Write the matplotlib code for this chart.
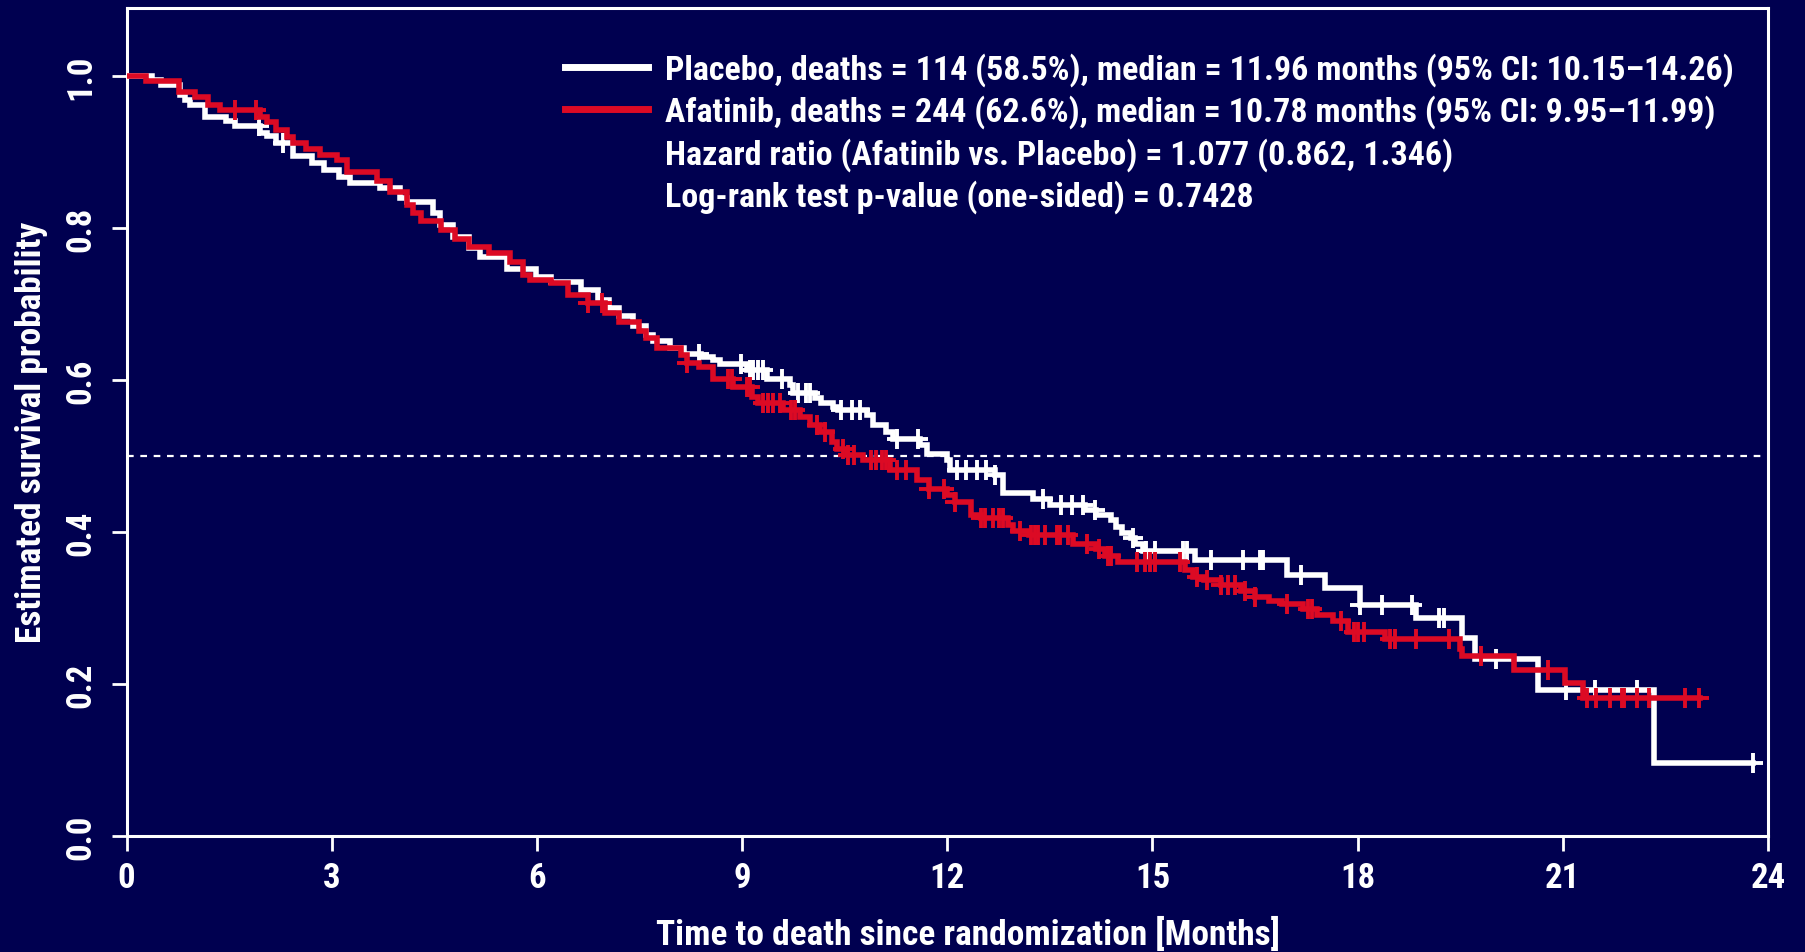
import numpy as np
import matplotlib
matplotlib.use("Agg")
import matplotlib.pyplot as plt
from matplotlib.lines import Line2D

plt.rcParams['font.family'] = ['Roboto Condensed', 'DejaVu Sans Condensed',
                               'Liberation Sans Narrow', 'Roboto', 'DejaVu Sans']
plt.rcParams['font.weight'] = 'bold'
plt.rcParams['axes.labelweight'] = 'bold'

NAVY = '#000050'
RED = '#DC0A24'
WHITE = '#FFFFFF'

# Kaplan-Meier steps: event times (months) and survival after each step
placebo_t = [0, 0.37, 0.5, 0.78, 0.85, 0.93, 1.15, 1.46, 1.58, 1.95,
             2.05, 2.19, 2.44, 2.71, 2.88, 3.1, 3.27, 3.70, 4.0, 4.1,
             4.48, 4.58, 4.78, 5.0, 5.17, 5.56, 5.99, 6.2, 6.64, 6.9,
             7.05, 7.2, 7.4, 7.6, 7.7, 7.95, 8.15, 8.4, 8.57, 8.68,
             9.07, 9.36, 9.70, 9.74, 10.06, 10.16, 10.33, 10.4, 10.82, 10.92,
             11.11, 11.21, 11.6, 11.7, 11.99, 12.04, 12.7, 12.82, 13.26, 13.5,
             14.01, 14.18, 14.4, 14.47, 14.55, 14.69, 14.74, 14.86, 15.62, 16.96,
             17.52, 18.03, 18.86, 19.52, 19.71, 20.64, 22.33]
placebo_s = [1.0, 0.9955, 0.989, 0.976, 0.969, 0.9626, 0.947, 0.9407, 0.934, 0.925,
             0.921, 0.912, 0.8946, 0.886, 0.877, 0.868, 0.859, 0.853, 0.84, 0.835,
             0.82, 0.804, 0.789, 0.774, 0.7625, 0.747, 0.736, 0.729, 0.719, 0.705,
             0.695, 0.685, 0.672, 0.659, 0.652, 0.642, 0.635, 0.63, 0.626, 0.621,
             0.613, 0.602, 0.5935, 0.5826, 0.576, 0.5694, 0.565, 0.5606, 0.554, 0.5408,
             0.532, 0.5224, 0.5144, 0.5035, 0.4947, 0.4815, 0.475, 0.451, 0.444, 0.436,
             0.4288, 0.422, 0.4156, 0.407, 0.399, 0.392, 0.385, 0.3747, 0.363, 0.343,
             0.3265, 0.3045, 0.287, 0.2606, 0.233, 0.1916, 0.096]
placebo_end = 23.78
placebo_cens = [1.93, 2.29, 8.37, 8.99, 9.11, 9.16, 9.23, 9.31, 9.58, 9.82,
                9.94, 9.99, 10.45, 10.6, 10.72, 11.26, 11.57, 12.14, 12.28, 12.43,
                12.57, 12.7, 13.4, 13.67, 13.82, 13.99, 14.16, 14.72, 14.91, 15.04,
                15.45, 15.5, 15.86, 16.33, 16.57, 16.62, 17.17, 18.03, 18.36, 18.79,
                19.19, 19.26, 20.03, 21.05, 21.47, 22.08, 23.78]

afatinib_t = [0, 0.29, 0.76, 1.0, 1.19, 1.37, 1.95, 2.05, 2.19, 2.34,
              2.44, 2.63, 2.83, 3.07, 3.22, 3.66, 3.85, 4.1, 4.19, 4.3,
              4.6, 4.8, 5.0, 5.3, 5.6, 5.8, 5.9, 6.2, 6.45, 6.75,
              7.0, 7.2, 7.5, 7.6, 7.75, 8.1, 8.2, 8.37, 8.58, 8.87,
              9.14, 9.24, 9.6, 9.84, 9.99, 10.14, 10.31, 10.39, 10.53, 10.77,
              11.16, 11.56, 11.73, 12.0, 12.12, 12.34, 12.5, 12.89, 12.96, 13.2,
              13.84, 14.18, 14.3, 14.5, 15.47, 15.6, 15.75, 16.0, 16.3, 16.5,
              16.7, 16.9, 17.2, 17.4, 17.64, 17.86, 18.4, 19.49, 19.53, 20.28,
              21.03, 21.3]
afatinib_s = [1.0, 0.9934, 0.980, 0.9734, 0.9626, 0.956, 0.947, 0.94, 0.93, 0.92,
              0.912, 0.905, 0.8967, 0.89, 0.8746, 0.8616, 0.848, 0.8308, 0.820, 0.81,
              0.798, 0.786, 0.776, 0.767, 0.756, 0.738, 0.732, 0.7275, 0.712, 0.701,
              0.689, 0.677, 0.665, 0.655, 0.642, 0.633, 0.622, 0.6177, 0.602, 0.5914,
              0.578, 0.5694, 0.5606, 0.5519, 0.5408, 0.532, 0.519, 0.51, 0.5013, 0.4947,
              0.4815, 0.468, 0.457, 0.4486, 0.44, 0.422, 0.418, 0.409, 0.401, 0.3956,
              0.385, 0.378, 0.369, 0.3605, 0.3497, 0.341, 0.337, 0.33, 0.322, 0.315,
              0.31, 0.306, 0.299, 0.291, 0.2825, 0.2685, 0.259, 0.2465, 0.2376, 0.218,
              0.2017, 0.182]
afatinib_end = 23.0
afatinib_cens = [1.585, 1.90, 6.75, 6.95, 8.2, 8.80, 8.85, 9.07, 9.11, 9.31,
                 9.38, 9.45, 9.55, 9.72, 9.77, 10.09, 10.21, 10.48, 10.55, 10.63,
                 10.89, 10.96, 11.04, 11.11, 11.26, 11.4, 11.73, 11.95, 12.12, 12.5,
                 12.55, 12.67, 12.75, 12.82, 13.06, 13.23, 13.28, 13.33, 13.43, 13.6,
                 13.65, 13.77, 14.04, 14.22, 14.35, 14.4, 14.77, 14.89, 14.96, 15.04,
                 15.4, 15.65, 15.8, 16.0, 16.1, 16.2, 16.35, 16.5, 16.96, 17.27,
                 17.33, 17.75, 17.94, 18.0, 18.1, 18.47, 18.55, 18.85, 19.34, 19.8,
                 20.78, 21.35, 21.49, 21.69, 21.86, 21.9, 22.08, 22.26, 22.78, 22.99]

legend_labels = [
    "Placebo, deaths = 114 (58.5%), median = 11.96 months (95% CI: 10.15\u201314.26)",
    "Afatinib, deaths = 244 (62.6%), median = 10.78 months (95% CI: 9.95\u201311.99)",
    "Hazard ratio (Afatinib vs. Placebo) = 1.077 (0.862, 1.346)",
    "Log-rank test p-value (one-sided) = 0.7428",
]
x_ticks = [0, 3, 6, 9, 12, 15, 18, 21, 24]
y_ticks = [0.0, 0.2, 0.4, 0.6, 0.8, 1.0]


def km_curve(ax, t, s, t_end, cens, color):
    t = np.asarray(t)
    s = np.asarray(s)
    xs = np.append(t, t_end)
    ys = np.append(s, s[-1])
    ax.step(xs, ys, where='post', color=color, lw=4.0, solid_joinstyle='miter',
            zorder=3)
    cens = np.asarray(cens)
    idx = np.searchsorted(t, cens, side='right') - 1
    ax.plot(cens, s[idx], ls='none', marker='+', ms=15, mew=2.8, color=color,
            zorder=3)


fig = plt.figure(figsize=(18.05, 9.53), dpi=100, facecolor=NAVY)
ax = fig.add_axes([0.0701, 0.1217, 0.9094, 0.8689], facecolor=NAVY)

ax.axhline(0.5, color=WHITE, lw=1.6, ls=(0, (3, 3)), zorder=2)
km_curve(ax, placebo_t, placebo_s, placebo_end, placebo_cens, WHITE)
km_curve(ax, afatinib_t, afatinib_s, afatinib_end, afatinib_cens, RED)

ax.set_xlim(0, 24)
ax.set_ylim(0, 1.09)
ax.set_xticks(x_ticks)
ax.set_yticks(y_ticks)
ax.set_yticklabels([f"{v:.1f}" for v in y_ticks], rotation=90, va='center')
for sp in ax.spines.values():
    sp.set_color(WHITE)
    sp.set_linewidth(2.2)
ax.tick_params(colors=WHITE, labelsize=25, length=11, width=2, direction='out',
               pad=7)
ax.tick_params(axis='y', pad=10)
ax.set_xlabel("Time to death since randomization [Months]", color=WHITE,
              fontsize=25.5, va='center')
ax.xaxis.set_label_coords(0.5126, -0.118)
ax.set_ylabel("Estimated survival probability", color=WHITE, fontsize=25.5,
              va='center')
ax.yaxis.set_label_coords(-0.0576, 0.489)

handles = [Line2D([], [], color=WHITE, lw=5),
           Line2D([], [], color=RED, lw=5),
           Line2D([], [], color='none'),
           Line2D([], [], color='none')]
leg = ax.legend(handles, legend_labels, loc='upper left',
                bbox_to_anchor=(0.259, 0.963), frameon=False, fontsize=24.5,
                handlelength=2.42, handletextpad=0.52, labelspacing=0.25,
                borderaxespad=0)
for txt in leg.get_texts():
    txt.set_color(WHITE)

fig.savefig("out.png", dpi=100, facecolor=NAVY)
